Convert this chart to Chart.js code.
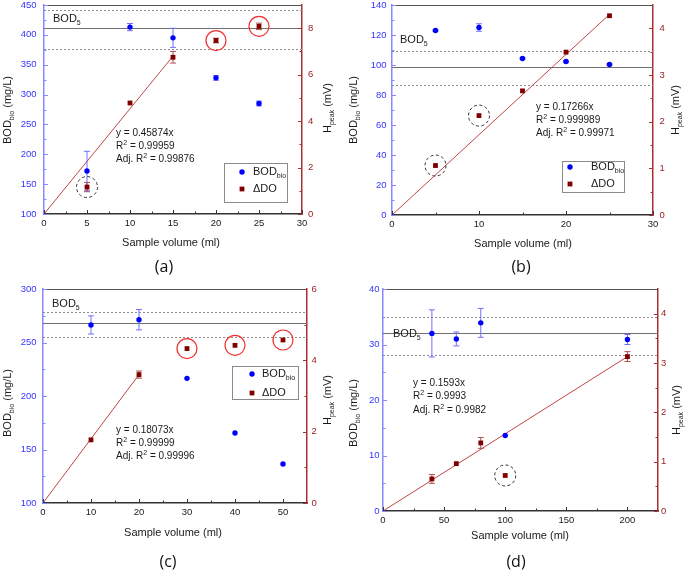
<!DOCTYPE html>
<html>
<head>
<meta charset="utf-8">
<script src="https://cdn.jsdelivr.net/npm/chart.js@4.4.0/dist/chart.umd.min.js"></script>
<style>
body { margin: 0; background: #fff; width: 685px; height: 570px; position: relative; overflow: hidden; }
canvas { position: absolute; }
</style>
</head>
<body>
<canvas id="pa"></canvas>
<canvas id="pb"></canvas>
<canvas id="pc"></canvas>
<canvas id="pd"></canvas>
<script>
/* ---------- DATA ---------- */

// (a)
const volA = [5, 10, 15, 20, 25];
const bodA = [172, 413, 395, 328, 285];
const bodErrA = [33, 6, 16, 4, 4];
const doA = [1.16, 4.78, 6.75, 7.47, 8.08];
const doErrA = [0.2, 0, 0.25, 0.1, 0.14];
const fitXA = [0, 15];
const fitYA = [0, 6.8];
const bod5A = [412, 441, 377];
const xTicksA = [0, 5, 10, 15, 20, 25, 30];
const yTicksA = [100, 150, 200, 250, 300, 350, 400, 450];
const y2TicksA = [0, 2, 4, 6, 8];
const fitTextA = ["0.45874", "0.99959", "0.99876"];
const redRingA = [3, 4];
const dashRingA = [0];

// (b)
const volB = [5, 10, 15, 20, 25];
const bodB = [123, 125, 104.3, 102.3, 100.3];
const bodErrB = [0.5, 2.5, 0.5, 0.5, 0.5];
const doB = [1.06, 2.13, 2.66, 3.49, 4.27];
const doErrB = [0, 0, 0, 0, 0];
const fitXB = [0, 25];
const fitYB = [0, 4.3];
const bod5B = [99, 109.5, 87];
const xTicksB = [0, 10, 20, 30];
const yTicksB = [0, 20, 40, 60, 80, 100, 120, 140];
const y2TicksB = [0, 1, 2, 3, 4];
const fitTextB = ["0.17266", "0.999989", "0.99971"];
const redRingB = [];
const dashRingB = [0, 1];

// (c)
const volC = [10, 20, 30, 40, 50];
const bodC = [266.4, 271.3, 216.5, 165.4, 136.4];
const bodErrC = [8.5, 9.5, 0, 0, 0];
const doC = [1.77, 3.6, 4.33, 4.42, 4.57];
const doErrC = [0, 0.1, 0, 0, 0];
const fitXC = [0, 20];
const fitYC = [0, 3.6];
const bod5C = [268, 278.5, 255];
const xTicksC = [0, 10, 20, 30, 40, 50];
const yTicksC = [100, 150, 200, 250, 300];
const y2TicksC = [0, 2, 4, 6];
const fitTextC = ["0.18073", "0.99999", "0.99996"];
const redRingC = [2, 3, 4];
const dashRingC = [];

// (d)
const volD = [40, 60, 80, 100, 200];
const bodD = [32, 31, 33.9, 13.6, 30.9];
const bodErrD = [4.25, 1.25, 2.6, 0, 0.9];
const doD = [0.65, 0.96, 1.38, 0.72, 3.13];
const doErrD = [0.09, 0, 0.11, 0, 0.1];
const fitXD = [0, 200];
const fitYD = [0, 3.13];
const bod5D = [32, 35, 28.1];
const xTicksD = [0, 50, 100, 150, 200];
const yTicksD = [0, 10, 20, 30, 40];
const y2TicksD = [0, 1, 2, 3, 4];
const fitTextD = ["0.1593", "0.9993", "0.9982"];
const redRingD = [];
const dashRingD = [3];

/* ---------- STYLE ---------- */

const FONT = "'Liberation Sans', Arial, sans-serif";
const BLUE = "#0000ff";
const BLUE_AX = "#8888ff";
const BLUE_TXT = "#3535ff";
const BLUE_ERR = "#7070ff";
const RED = "#800000";
const RED_AX = "#a83030";
const RED_TXT = "#9a2020";
const RED_ERR = "#b05050";
const FIT = "rgb(190,70,70)";

/* ---------- HELPERS ---------- */

// draw text made of parts: [string, kind] where kind is "", "sub" or "sup"
function rich(ctx, parts, x, y, align, size, color) {
  const small = Math.round(size * 0.66);
  let w = 0;
  parts.forEach(p => {
    ctx.font = (p[1] ? small : size) + "px " + FONT;
    w += ctx.measureText(p[0]).width;
  });
  let cx = align === "center" ? x - w / 2 : align === "right" ? x - w : x;
  ctx.textAlign = "left";
  ctx.textBaseline = "middle";
  ctx.fillStyle = color || "#1a1a1a";
  parts.forEach(p => {
    ctx.font = (p[1] ? small : size) + "px " + FONT;
    const dy = p[1] === "sub" ? size * 0.33 : p[1] === "sup" ? -size * 0.33 : 0;
    ctx.fillText(p[0], cx, y + dy);
    cx += ctx.measureText(p[0]).width;
  });
}

function minors(ticks, max) {
  const out = [];
  for (let i = 0; i < ticks.length - 1; i++) out.push((ticks[i] + ticks[i + 1]) / 2);
  const step = ticks[1] - ticks[0];
  const last = ticks[ticks.length - 1] + step / 2;
  if (last < max) out.push(last);
  return out;
}

function errBars(ctx, sx, sy, xs, ys, errs, color) {
  ctx.strokeStyle = color;
  ctx.lineWidth = 1;
  xs.forEach((v, i) => {
    if (!errs[i]) return;
    const px = sx.getPixelForValue(v);
    const t = sy.getPixelForValue(ys[i] + errs[i]);
    const b = sy.getPixelForValue(ys[i] - errs[i]);
    ctx.beginPath();
    ctx.moveTo(px, t); ctx.lineTo(px, b);
    ctx.moveTo(px - 3, t); ctx.lineTo(px + 3, t);
    ctx.moveTo(px - 3, b); ctx.lineTo(px + 3, b);
    ctx.stroke();
  });
}

/* ---------- PANEL ---------- */

function panel(id, pos, d, L) {
  const cv = document.getElementById(id);
  cv.width = pos[2];
  cv.height = pos[3];
  cv.style.left = pos[0] + "px";
  cv.style.top = pos[1] + "px";
  const W = pos[2], H = pos[3];
  const A = L.area; // [left, top, right, bottom]

  const deco = {
    id: "deco_" + id,
    beforeDatasetsDraw(chart) {
      const { ctx, chartArea: a, scales: { x, y, y2 } } = chart;
      ctx.save();
      d.bod5.forEach((v, i) => {
        const py = Math.round(y.getPixelForValue(v)) + 0.5;
        ctx.strokeStyle = i ? "#8c8c8c" : "#707070";
        ctx.setLineDash(i ? [2, 2] : []);
        ctx.lineWidth = 1;
        ctx.beginPath();
        ctx.moveTo(a.left, py);
        ctx.lineTo(a.right, py);
        ctx.stroke();
      });
      ctx.setLineDash([]);
      errBars(ctx, x, y, d.vol, d.bod, d.bodErr, BLUE_ERR);
      errBars(ctx, x, y2, d.vol, d.do_, d.doErr, RED_ERR);
      ctx.restore();
    },
    afterDraw(chart) {
      const { ctx, chartArea: a, scales: { x, y, y2 } } = chart;
      ctx.save();

      // top frame
      ctx.strokeStyle = "#555";
      ctx.lineWidth = 1;
      ctx.beginPath();
      ctx.moveTo(a.left, a.top + 0.5);
      ctx.lineTo(a.right, a.top + 0.5);
      ctx.stroke();

      // inward ticks
      const tick = (scale, vals, len, color, dir) => {
        ctx.strokeStyle = color;
        ctx.lineWidth = 1;
        vals.forEach(v => {
          const p = Math.round(scale.getPixelForValue(v)) + 0.5;
          ctx.beginPath();
          if (dir === "up") { ctx.moveTo(p, a.bottom); ctx.lineTo(p, a.bottom - len); }
          if (dir === "right") { ctx.moveTo(a.left, p); ctx.lineTo(a.left + len, p); }
          if (dir === "left") { ctx.moveTo(a.right, p); ctx.lineTo(a.right - len, p); }
          ctx.stroke();
        });
      };
      tick(x, d.xTicks, 4, "#333", "up");
      tick(x, minors(d.xTicks, d.xMax), 2.5, "#333", "up");
      tick(y, d.yTicks, 4, BLUE_AX, "right");
      tick(y, minors(d.yTicks, d.yMax), 2.5, BLUE_AX, "right");
      tick(y2, d.y2Ticks, 4, RED_AX, "left");
      tick(y2, minors(d.y2Ticks, d.y2Max), 2.5, RED_AX, "left");

      // highlight rings
      d.red.forEach(i => {
        ctx.strokeStyle = "#f03030";
        ctx.lineWidth = 1.2;
        ctx.beginPath();
        ctx.arc(x.getPixelForValue(d.vol[i]), y2.getPixelForValue(d.do_[i]), 10, 0, Math.PI * 2);
        ctx.stroke();
      });
      d.dash.forEach(i => {
        ctx.strokeStyle = "#333";
        ctx.lineWidth = 1;
        ctx.setLineDash([3, 2.5]);
        ctx.beginPath();
        ctx.arc(x.getPixelForValue(d.vol[i]), y2.getPixelForValue(d.do_[i]), 10.5, 0, Math.PI * 2);
        ctx.stroke();
        ctx.setLineDash([]);
      });

      // BOD5 label
      rich(ctx, [["BOD", ""], ["5", "sub"]], L.bod5[0], L.bod5[1], "left", 11);

      // regression text
      const f = L.fit;
      rich(ctx, [["y = " + d.fitText[0] + "x", ""]], f[0], f[1], "left", 10);
      rich(ctx, [["R", ""], ["2", "sup"], [" = " + d.fitText[1], ""]], f[0], f[1] + f[2], "left", 10);
      rich(ctx, [["Adj. R", ""], ["2", "sup"], [" = " + d.fitText[2], ""]], f[0], f[1] + 2 * f[2], "left", 10);

      // legend
      if (L.legend) {
        const g = L.legend;
        ctx.strokeStyle = "#8a8a8a";
        ctx.lineWidth = 1;
        ctx.strokeRect(g.box[0] + 0.5, g.box[1] + 0.5, g.box[2] - g.box[0], g.box[3] - g.box[1]);
        ctx.fillStyle = BLUE;
        ctx.beginPath();
        ctx.arc(g.mx, g.rows[0], 2.7, 0, Math.PI * 2);
        ctx.fill();
        ctx.fillStyle = RED;
        ctx.fillRect(g.mx - 2.4, g.rows[1] - 2.4, 4.8, 4.8);
        rich(ctx, [["BOD", ""], ["bio", "sub"]], g.tx, g.rows[0], "left", 11);
        rich(ctx, [["\u0394DO", ""]], g.tx, g.rows[1], "left", 11);
      }

      // axis titles
      rich(ctx, [["Sample volume (ml)", ""]], L.xt[0], L.xt[1], "center", 11);
      ctx.save();
      ctx.translate(L.yt[0], L.yt[1]);
      ctx.rotate(-Math.PI / 2);
      rich(ctx, [["BOD", ""], ["bio", "sub"], [" (mg/L)", ""]], 0, 0, "center", 11);
      ctx.restore();
      ctx.save();
      ctx.translate(L.y2t[0], L.y2t[1]);
      ctx.rotate(-Math.PI / 2);
      rich(ctx, [["H", ""], ["peak", "sub"], [" (mV)", ""]], 0, 0, "center", 11);
      ctx.restore();

      // panel tag
      ctx.font = "16px 'Open Sans', sans-serif";
      ctx.fillStyle = "#111";
      ctx.textAlign = "center";
      ctx.textBaseline = "middle";
      ctx.fillText(L.tag[2], L.tag[0], L.tag[1]);

      ctx.restore();
    }
  };

  const tickFont = { family: FONT, size: 9.5 };

  new Chart(cv, {
    type: "scatter",
    data: {
      datasets: [
        {
          label: "\u0394DO",
          data: d.vol.map((v, i) => ({ x: v, y: d.do_[i] })),
          yAxisID: "y2",
          pointStyle: "rect",
          pointRadius: 3.4,
          backgroundColor: RED,
          borderWidth: 0
        },
        {
          label: "BODbio",
          data: d.vol.map((v, i) => ({ x: v, y: d.bod[i] })),
          yAxisID: "y",
          pointStyle: "circle",
          pointRadius: 2.7,
          backgroundColor: BLUE,
          borderWidth: 0
        },
        {
          label: "fit",
          type: "line",
          data: d.fitX.map((v, i) => ({ x: v, y: d.fitY[i] })),
          yAxisID: "y2",
          borderColor: FIT,
          borderWidth: 1,
          pointRadius: 0,
          fill: false
        }
      ]
    },
    options: {
      responsive: false,
      animation: false,
      devicePixelRatio: 1,
      events: [],
      layout: { padding: { top: A[1], left: 0, right: 0, bottom: 0 } },
      plugins: { legend: { display: false }, tooltip: { enabled: false } },
      scales: {
        x: {
          type: "linear",
          position: "bottom",
          min: 0,
          max: d.xMax,
          afterBuildTicks: s => { s.ticks = d.xTicks.map(v => ({ value: v })); },
          afterFit: s => { s.height = H - A[3]; s.paddingLeft = 0; s.paddingRight = 0; },
          grid: { display: true, drawOnChartArea: false, drawTicks: false },
          border: { color: "#333", width: 1.5 },
          ticks: { color: "#1a1a1a", font: tickFont, padding: 4, maxRotation: 0, autoSkip: false }
        },
        y: {
          type: "linear",
          position: "left",
          min: d.yMin,
          max: d.yMax,
          afterBuildTicks: s => { s.ticks = d.yTicks.map(v => ({ value: v })); },
          afterFit: s => { s.width = A[0]; s.paddingTop = 0; s.paddingBottom = 0; },
          grid: { display: true, drawOnChartArea: false, drawTicks: false },
          border: { color: BLUE_AX, width: 1.5 },
          ticks: { color: BLUE_TXT, font: tickFont, padding: L.pad[0], autoSkip: false }
        },
        y2: {
          type: "linear",
          position: "right",
          min: 0,
          max: d.y2Max,
          afterBuildTicks: s => { s.ticks = d.y2Ticks.map(v => ({ value: v })); },
          afterFit: s => { s.width = W - A[2]; s.paddingTop = 0; s.paddingBottom = 0; },
          grid: { display: true, drawOnChartArea: false, drawTicks: false },
          border: { color: RED_AX, width: 1.5 },
          ticks: { color: RED_TXT, font: tickFont, padding: L.pad[1], autoSkip: false }
        }
      }
    },
    plugins: [deco]
  });
}

/* ---------- BUILD ---------- */

panel("pa", [0, 0, 342, 280], {
  vol: volA, bod: bodA, bodErr: bodErrA, do_: doA, doErr: doErrA,
  fitX: fitXA, fitY: fitYA, bod5: bod5A, fitText: fitTextA,
  xTicks: xTicksA, yTicks: yTicksA, y2Ticks: y2TicksA,
  xMax: 30, yMin: 100, yMax: 450, y2Max: 9,
  red: redRingA, dash: dashRingA
}, {
  area: [44, 5, 302, 214], pad: [7.5, 6],
  bod5: [53, 19], fit: [116, 133, 13],
  legend: { box: [224, 163, 287, 202], mx: 242, tx: 253, rows: [172, 189] },
  xt: [171, 243], yt: [8, 110], y2t: [328, 108], tag: [164, 267, "(a)"]
});

panel("pb", [342, 0, 343, 280], {
  vol: volB, bod: bodB, bodErr: bodErrB, do_: doB, doErr: doErrB,
  fitX: fitXB, fitY: fitYB, bod5: bod5B, fitText: fitTextB,
  xTicks: xTicksB, yTicks: yTicksB, y2Ticks: y2TicksB,
  xMax: 30, yMin: 0, yMax: 140, y2Max: 4.5,
  red: redRingB, dash: dashRingB
}, {
  area: [50, 5, 311, 215], pad: [5.5, 6.5],
  bod5: [58, 40], fit: [194, 107, 13],
  legend: { box: [220, 161, 282, 192], mx: 228, tx: 249, rows: [167, 184] },
  xt: [181, 244], yt: [12, 110], y2t: [334, 110], tag: [179, 267, "(b)"]
});

panel("pc", [0, 280, 342, 290], {
  vol: volC, bod: bodC, bodErr: bodErrC, do_: doC, doErr: doErrC,
  fitX: fitXC, fitY: fitYC, bod5: bod5C, fitText: fitTextC,
  xTicks: xTicksC, yTicks: yTicksC, y2Ticks: y2TicksC,
  xMax: 55, yMin: 100, yMax: 300, y2Max: 6,
  red: redRingC, dash: dashRingC
}, {
  area: [43, 9, 307, 223], pad: [6.5, 4.5],
  bod5: [52, 24], fit: [116, 150, 13.3],
  legend: { box: [232, 86, 298, 119], mx: 252, tx: 262, rows: [94, 113] },
  xt: [173, 253], yt: [8, 123], y2t: [328, 120], tag: [168, 282, "(c)"]
});

panel("pd", [342, 280, 343, 290], {
  vol: volD, bod: bodD, bodErr: bodErrD, do_: doD, doErr: doErrD,
  fitX: fitXD, fitY: fitYD, bod5: bod5D, fitText: fitTextD,
  xTicks: xTicksD, yTicks: yTicksD, y2Ticks: y2TicksD,
  xMax: 225, yMin: 0, yMax: 40, y2Max: 4.5,
  red: redRingD, dash: dashRingD
}, {
  area: [41, 9, 316, 231], pad: [3.5, 3],
  bod5: [51, 54], fit: [71, 103, 13.6],
  legend: null,
  xt: [178, 256], yt: [12, 133], y2t: [335, 130], tag: [174, 282, "(d)"]
});
</script>
</body>
</html>
